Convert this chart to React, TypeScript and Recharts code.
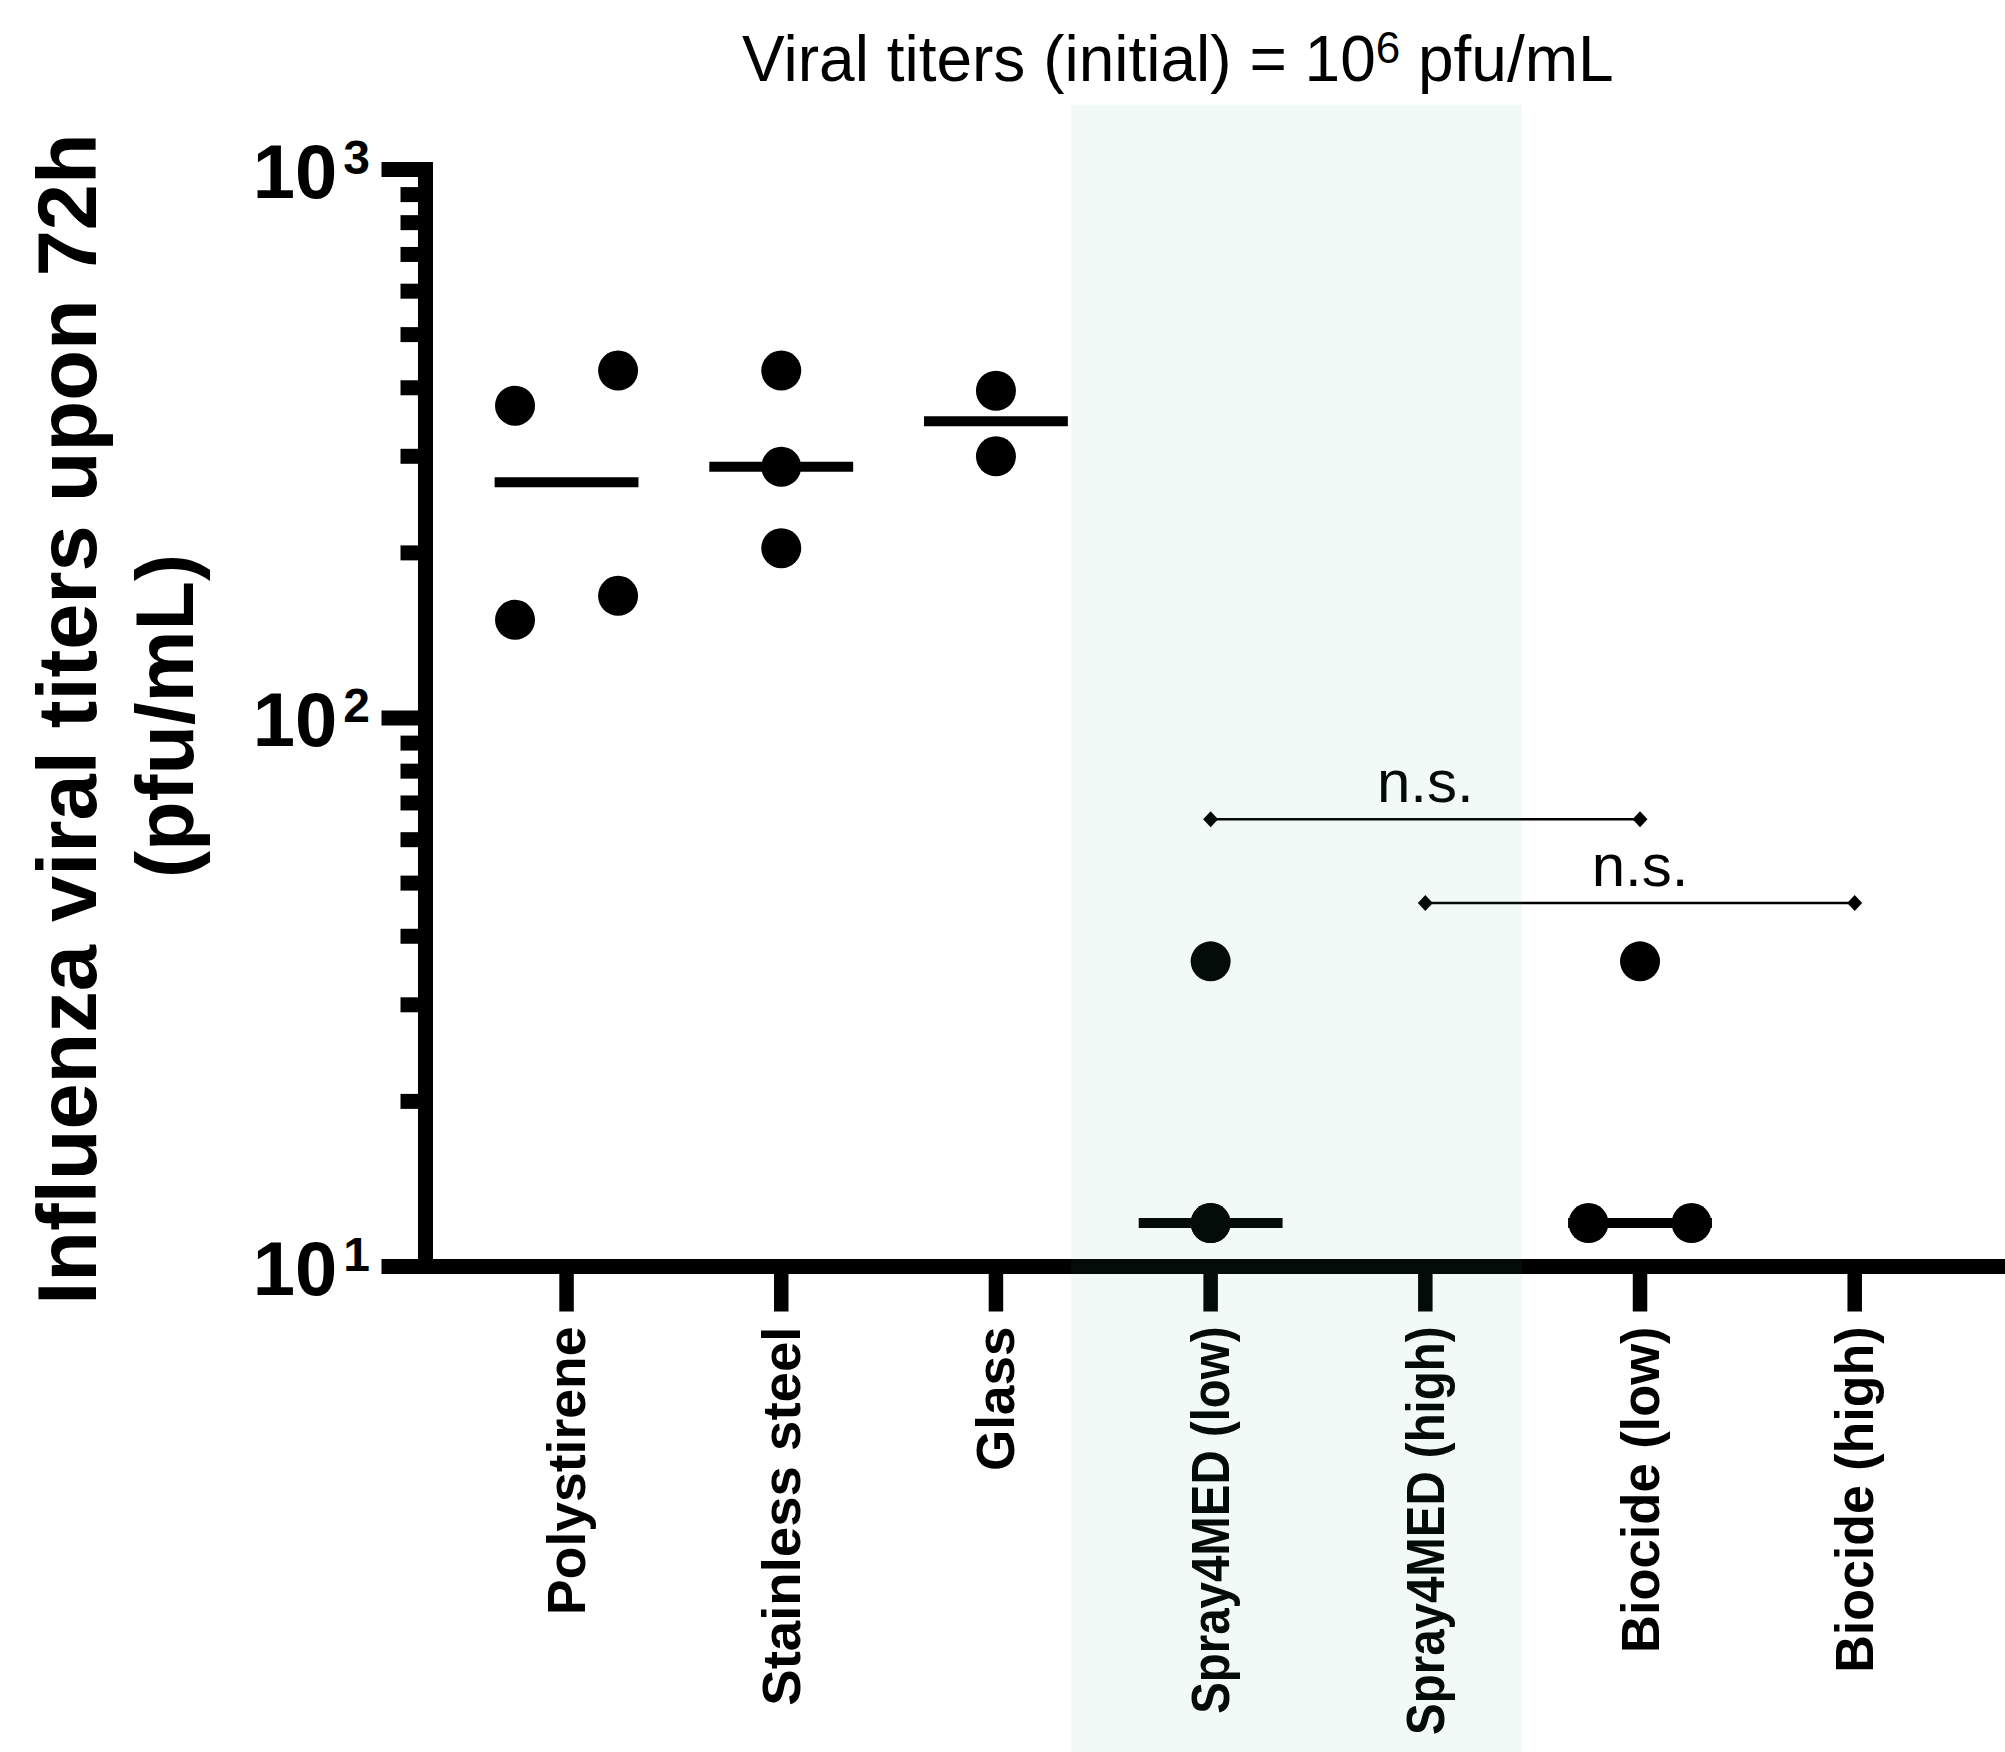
import React from 'react';
import { ComposedChart, XAxis, YAxis, Scatter, ReferenceLine, ReferenceArea } from 'recharts';

// surfaces tested, left to right
const CATEGORIES = [
  'Polystirene',
  'Stainless steel',
  'Glass',
  'Spray4MED (low)',
  'Spray4MED (high)',
  'Biocide (low)',
  'Biocide (high)',
];

// titers (pfu/mL) after 72h, one value per replicate
const POLYSTIRENE = [371, 430, 151, 167];
const STAINLESS = [430, 287, 204];
const GLASS = [395, 300];
const SPRAY_LOW = [36, 12, 12];
const SPRAY_HIGH: number[] = [];
const BIOCIDE_LOW = [36, 12, 12];
const BIOCIDE_HIGH: number[] = [];

// horizontal spread of replicates inside a column (x units)
const POLYSTIRENE_JITTER = [-0.24, 0.24, -0.24, 0.24];
const BIOCIDE_LOW_JITTER = [0, -0.24, 0.24];

const Y_TICKS = [10, 20, 30, 40, 50, 60, 70, 80, 90, 100, 200, 300, 400, 500, 600, 700, 800, 900, 1000];
const X_TICKS = [0, 1, 2, 3, 4, 5, 6];

// n.s. comparisons: column indexes and height of the bracket
const COMPARISONS = [
  { from: 3, to: 5, y: 65.4, label: 'n.s.' },
  { from: 4, to: 6, y: 46, label: 'n.s.' },
];

// shaded block behind the Spray4MED columns
const SHADE_FROM = 2.35;
const SHADE_TO = 4.45;

// the original squeezes some category labels along their length
const LABEL_STRETCH = [1.01, 1.03, 1, 0.895, 0.895, 0.99, 0.98];

const FONT = '"Liberation Sans", Arial, Helvetica, sans-serif';

const VALUES = [POLYSTIRENE, STAINLESS, GLASS, SPRAY_LOW, SPRAY_HIGH, BIOCIDE_LOW, BIOCIDE_HIGH];
const JITTER: Record<number, number[]> = { 0: POLYSTIRENE_JITTER, 5: BIOCIDE_LOW_JITTER };

const median = (vals: number[]) => {
  const s = [...vals].sort((a, b) => a - b);
  const mid = Math.floor(s.length / 2);
  return s.length % 2 ? s[mid] : (s[mid - 1] + s[mid]) / 2;
};

const points = VALUES.flatMap((vals, g) =>
  vals.map((v, i) => ({ x: g + (JITTER[g] ? JITTER[g][i] : 0), y: v }))
);
const medians = VALUES.map((vals, g) => (vals.length ? { g, m: median(vals) } : null)).filter(
  (d): d is { g: number; m: number } => d !== null
);
const bracketEnds = COMPARISONS.flatMap((c) => [
  { x: c.from, y: c.y },
  { x: c.to, y: c.y },
]);
const bracketLabels = COMPARISONS.map((c) => ({ x: (c.from + c.to) / 2, y: c.y, label: c.label }));

const XTick = (props: any) => {
  const { x, y, payload } = props;
  const tx = x + 18.5;
  const ty = y + 60;
  const s = LABEL_STRETCH[payload.value] ?? 1;
  return (
    <g>
      <line x1={x} x2={x} y1={y} y2={y + 45} stroke="#000" strokeWidth={14.5} />
      <text
        x={0}
        y={0}
        transform={`translate(${tx} ${ty}) rotate(-90) scale(${s} 1)`}
        textAnchor="end"
        fontFamily={FONT}
        fontWeight="bold"
        fontSize={53}
        fill="#000"
      >
        {CATEGORIES[payload.value]}
      </text>
    </g>
  );
};

const YTick = (props: any) => {
  const { x, y, payload } = props;
  const lg = Math.log10(payload.value);
  const exp = Math.round(lg);
  const major = Math.abs(lg - exp) < 1e-6;
  return (
    <g>
      <line x1={x - (major ? 44 : 25)} x2={x} y1={y} y2={y} stroke="#000" strokeWidth={15} />
      {major && (
        <text x={x - 55.5} y={y + 28} textAnchor="end" fontFamily={FONT} fontWeight="bold" fontSize={76} fill="#000">
          10
          <tspan dx={6} dy={-24} fontSize={48}>
            {exp}
          </tspan>
        </text>
      )}
    </g>
  );
};

const Dot = (props: any) => <circle cx={props.cx} cy={props.cy} r={20} fill="#000" />;

const Diamond = (props: any) => {
  const { cx, cy } = props;
  return <polygon points={`${cx - 7.5},${cy} ${cx},${cy - 8} ${cx + 7.5},${cy} ${cx},${cy + 8}`} fill="#000" />;
};

const NsLabel = (props: any) => (
  <text x={props.cx} y={props.cy - 17} textAnchor="middle" fontFamily={FONT} fontSize={60} fill="#000">
    {props.payload.label}
  </text>
);

export default function App() {
  const axisLine = { strokeWidth: 15, strokeLinecap: 'square' as const };
  return (
    <div style={{ position: 'absolute', left: 0, top: 0, width: 2005, height: 1752, background: '#fff' }}>
      <ComposedChart width={2005} height={1752} margin={{ top: 169.5, right: 0, bottom: 0, left: 0 }}>
        <XAxis
          type="number"
          dataKey="x"
          domain={[-0.657, 6.7]}
          allowDataOverflow
          ticks={X_TICKS}
          interval={0}
          height={485.5}
          stroke="#000"
          axisLine={axisLine}
          tickLine={false}
          tickSize={0}
          tickMargin={0}
          tick={XTick}
        />
        <YAxis
          type="number"
          dataKey="y"
          scale="log"
          domain={[10, 1000]}
          allowDataOverflow
          ticks={Y_TICKS}
          interval={0}
          width={425.5}
          stroke="#000"
          axisLine={axisLine}
          tickLine={false}
          tickSize={0}
          tickMargin={0}
          tick={YTick}
        />
        {medians.map((m) => (
          <ReferenceLine
            key={`med-${m.g}`}
            segment={[
              { x: m.g - 0.335, y: m.m },
              { x: m.g + 0.335, y: m.m },
            ]}
            stroke="#000"
            strokeWidth={10}
          />
        ))}
        <Scatter data={points} shape={Dot} isAnimationActive={false} />
        {COMPARISONS.map((c, i) => (
          <ReferenceLine
            key={`cmp-${i}`}
            segment={[
              { x: c.from, y: c.y },
              { x: c.to, y: c.y },
            ]}
            stroke="#000"
            strokeWidth={2.5}
          />
        ))}
        <Scatter data={bracketEnds} shape={Diamond} isAnimationActive={false} />
        <Scatter data={bracketLabels} shape={NsLabel} isAnimationActive={false} />
        <ReferenceArea
          x1={SHADE_FROM}
          x2={SHADE_TO}
          y1={1}
          y2={1313}
          ifOverflow="visible"
          fill="rgb(30,175,140)"
          fillOpacity={0.065}
          stroke="none"
          zIndex={3000}
        />
        <text x={742} y={81} fontFamily={FONT} fontSize={64} fill="#000">
          Viral titers (initial) = 10
          <tspan dy={-18} fontSize={44}>
            6
          </tspan>
          <tspan dy={18}>{' pfu/mL'}</tspan>
        </text>
        <text
          x={95.5}
          y={719}
          transform="rotate(-90 95.5 719)"
          textAnchor="middle"
          fontFamily={FONT}
          fontWeight="bold"
          fontSize={83}
          fill="#000"
        >
          Influenza viral titers upon 72h
        </text>
        <text
          x={193}
          y={716}
          transform="rotate(-90 193 716)"
          textAnchor="middle"
          fontFamily={FONT}
          fontWeight="bold"
          fontSize={81}
          fill="#000"
        >
          (pfu/mL)
        </text>
      </ComposedChart>
    </div>
  );
}
